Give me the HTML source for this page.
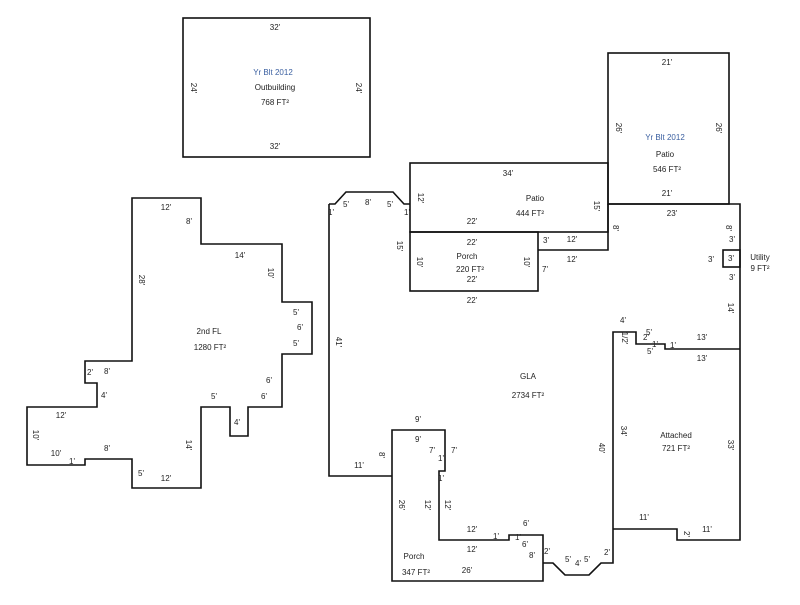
<!DOCTYPE html>
<html><head><meta charset="utf-8"><style>
html,body{margin:0;padding:0;background:#fff;}
svg text{font-family:"Liberation Sans",Arial,sans-serif;font-size:8px;fill:#222;text-anchor:middle;dominant-baseline:middle;}
.b{fill:#3a5fa0;}
</style></head><body>
<svg width="800" height="600" viewBox="0 0 800 600" xmlns="http://www.w3.org/2000/svg">
<g fill="none" stroke="#111" stroke-width="1.6">
<rect x="183" y="18" width="187" height="139"/>
<rect x="608" y="53" width="121" height="151"/>
<polyline points="608,204 608,250 538,250"/>
<rect x="410" y="163" width="198" height="69"/>
<rect x="410" y="232" width="128" height="59"/>
<polyline points="329,204 335,204 346,192 393,192 404,204 410,204"/>
<polyline points="329,204 329,476 392,476"/>
<polyline points="608,204 740,204 740,540 677,540 677,529 613,529"/>
<polyline points="543,563 553,563 565,575 589,575 601,563 613,563 613,332 636,332 636,344 665,344 665,349 740,349"/>
<rect x="723" y="250" width="17" height="17"/>
<polygon points="392,430 445,430 445,471 439,471 439,540 509,540 509,535 543,535 543,581 392,581"/>
<polygon points="132,198 201,198 201,244 282,244 282,302 312,302 312,354 282,354 282,407 248,407 248,436 230,436 230,407 201,407 201,488 132,488 132,459 85,459 85,465 27,465 27,407 97,407 97,383 85,383 85,361 132,361"/>
</g>
<text x="275" y="28">32'</text><text x="275" y="147">32'</text>
<text transform="translate(193,88) rotate(90)">24'</text><text transform="translate(358,88) rotate(90)">24'</text>
<text class="b" x="273" y="73">Yr Blt 2012</text><text x="275" y="88">Outbuilding</text><text x="275" y="103">768 FT²</text>
<text x="667" y="63">21'</text><text x="667" y="194">21'</text>
<text transform="translate(618,128) rotate(90)">26'</text><text transform="translate(718,128) rotate(90)">26'</text>
<text class="b" x="665" y="138">Yr Blt 2012</text><text x="665" y="155">Patio</text><text x="667" y="170">546 FT²</text>
<text x="508" y="174">34'</text><text x="535" y="199">Patio</text><text x="530" y="214">444 FT²</text><text x="472" y="222">22'</text>
<text transform="translate(420,198) rotate(90)">12'</text><text transform="translate(596,206) rotate(90)">15'</text>
<text x="546" y="241">3'</text><text x="572" y="240">12'</text><text x="572" y="260">12'</text><text transform="translate(615,228) rotate(90)">8'</text>
<text x="472" y="243">22'</text><text x="467" y="257">Porch</text><text x="470" y="270">220 FT²</text><text x="472" y="280">22'</text>
<text transform="translate(419,262) rotate(90)">10'</text><text transform="translate(526,262) rotate(90)">10'</text>
<text x="545" y="270">7'</text><text x="472" y="301">22'</text>
<text x="331" y="213">1'</text><text x="346" y="205">5'</text><text x="368" y="203">8'</text><text x="390" y="205">5'</text><text x="407" y="213">1'</text>
<text transform="translate(399,246) rotate(90)">15'</text><text transform="translate(338,342) rotate(90)">41'</text>
<text x="528" y="377">GLA</text><text x="528" y="396">2734 FT²</text>
<text transform="translate(381,455) rotate(90)">8'</text><text x="359" y="466">11'</text>
<text x="672" y="214">23'</text><text transform="translate(728,228) rotate(90)">8'</text><text x="732" y="240">3'</text>
<text x="711" y="260">3'</text><text x="731" y="259">3'</text><text x="732" y="278">3'</text><text transform="translate(730,308) rotate(90)">14'</text>
<text x="760" y="258">Utility</text><text x="760" y="269">9 FT²</text>
<text x="623" y="321">4'</text><text x="649" y="333">5'</text><text x="646" y="338">2'</text><text transform="translate(624,338) rotate(90)">1/2'</text>
<text x="655" y="345">1'</text><text x="650" y="352">5'</text><text x="673" y="346">1'</text><text x="702" y="338">13'</text><text x="702" y="359">13'</text>
<text transform="translate(623,431) rotate(90)">34'</text><text transform="translate(601,448) rotate(90)">40'</text>
<text x="676" y="436">Attached</text><text x="676" y="449">721 FT²</text><text transform="translate(730,445) rotate(90)">33'</text>
<text x="644" y="518">11'</text><text x="707" y="530">11'</text><text transform="translate(686,534) rotate(90)">2'</text>
<text x="418" y="420">9'</text><text x="418" y="440">9'</text><text x="432" y="451">7'</text><text x="454" y="451">7'</text>
<text x="441" y="459">1'</text><text x="441" y="479">1'</text>
<text transform="translate(401,505) rotate(90)">26'</text><text transform="translate(427,505) rotate(90)">12'</text><text transform="translate(447,505) rotate(90)">12'</text>
<text x="472" y="530">12'</text><text x="472" y="550">12'</text><text x="496" y="537">1'</text><text x="526" y="524">6'</text><text x="518" y="538">1'</text>
<text x="525" y="545">6'</text><text x="532" y="556">8'</text>
<text x="414" y="557">Porch</text><text x="416" y="573">347 FT²</text><text x="467" y="571">26'</text>
<text x="547" y="552">2'</text><text x="568" y="560">5'</text><text x="578" y="564">4'</text><text x="587" y="560">5'</text><text x="607" y="553">2'</text>
<text x="166" y="208">12'</text><text x="189" y="222">8'</text><text x="240" y="256">14'</text>
<text transform="translate(270,273) rotate(90)">10'</text><text transform="translate(141,280) rotate(90)">28'</text>
<text x="296" y="313">5'</text><text x="300" y="328">6'</text><text x="296" y="344">5'</text>
<text x="209" y="332">2nd FL</text><text x="210" y="348">1280 FT²</text>
<text x="90" y="373">2'</text><text x="107" y="372">8'</text><text x="104" y="396">4'</text><text x="269" y="381">6'</text>
<text x="214" y="397">5'</text><text x="264" y="397">6'</text><text x="61" y="416">12'</text>
<text transform="translate(35,435) rotate(90)">10'</text><text x="56" y="454">10'</text><text x="107" y="449">8'</text><text x="72" y="462">1'</text>
<text transform="translate(188,445) rotate(90)">14'</text><text x="237" y="423">4'</text><text x="141" y="474">5'</text><text x="166" y="479">12'</text>
</svg>
</body></html>
